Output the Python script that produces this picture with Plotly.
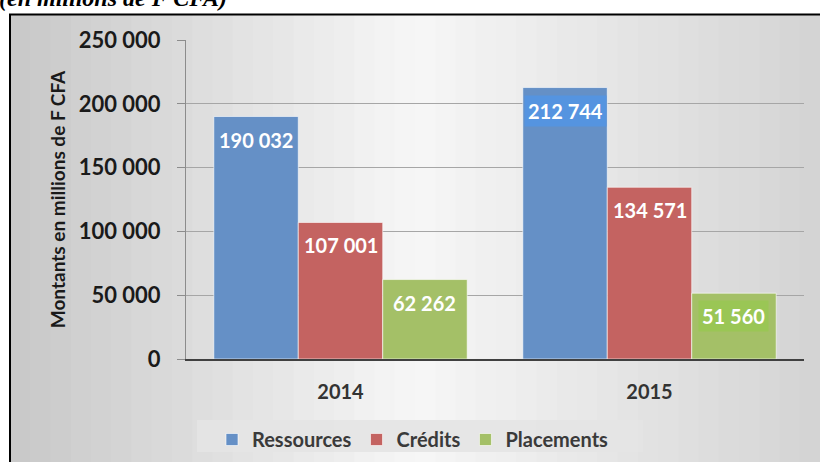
import plotly.graph_objects as go

years = ["2014", "2015"]
ressources = [190032, 212744]
credits = [107001, 134571]
placements = [62262, 51560]
series_names = ["Ressources", "Crédits", "Placements"]
y_ticks = [0, 50000, 100000, 150000, 200000, 250000]
y_tick_labels = ["0", "50 000", "100 000", "150 000", "200 000", "250 000"]
y_title = "Montants en millions de F CFA"
top_caption = "(en millions de F CFA)"

def fmt(v):
    return f"{v:,}".replace(",", " ")

colors = ["#6590c6", "#c46361", "#a4c067"]
# label boxes (Excel-style filled data labels), keyed by (series index, category index)
label_boxes = {(0, 1): "#5594e0", (2, 1): "#9ac655"}

FONT = "Lato"
L, R, T, B = 186, 16, 40, 103
W, H = 820, 462
pw, ph = W - L - R, H - T - B
BARGAP = 0.18

def px(xp):
    return (xp - L) / pw

def py(yp):
    return 1 - (yp - T) / ph

xpos = list(range(len(years)))
fig = go.Figure()
all_series = [ressources, credits, placements]
for name, vals, col in zip(series_names, all_series, colors):
    fig.add_trace(go.Bar(
        x=xpos, y=vals, name=name,
        marker=dict(color=col, line=dict(color="rgba(255,255,255,0.6)", width=1)),
    ))

# data labels placed inside the top of each bar
bar_w = (1 - BARGAP) / len(series_names)
annotations = []
for si, vals in enumerate(all_series):
    off = (si - (len(series_names) - 1) / 2) * bar_w
    for ci, v in enumerate(vals):
        box = label_boxes.get((si, ci))
        annotations.append(dict(
            x=xpos[ci] + off, y=v, xref="x", yref="y", yshift=-23,
            text=fmt(v), showarrow=False, xanchor="center", yanchor="middle",
            font=dict(family=FONT, size=20, color="white", weight="bold"),
            bgcolor=box if box else "rgba(0,0,0,0)", borderpad=3,
        ))

annotations.append(dict(text=top_caption, xref="paper", yref="paper",
                        x=px(-3), y=py(-2), xanchor="left", yanchor="middle", showarrow=False,
                        font=dict(family="Liberation Serif", size=24, color="black",
                                  weight="bold", style="italic")))

# background gradient strips
shapes = []
n = 40
for i in range(n):
    x0 = 10 + (W - 10) * i / n
    x1 = 10 + (W - 10) * (i + 1) / n
    t = (i + 0.5) / n
    if t < 0.5:
        v = 200 + (247 - 200) * (t / 0.5)
    else:
        v = 247 - (247 - 212) * ((t - 0.5) / 0.5)
    v = int(v)
    shapes.append(dict(type="rect", xref="paper", yref="paper",
                       x0=px(x0), x1=px(x1) + 0.002, y0=py(H + 2), y1=py(14),
                       fillcolor=f"rgb({v},{v},{v})", line=dict(width=0), layer="below"))
# legend box background
shapes.append(dict(type="rect", xref="paper", yref="paper",
                   x0=px(197), x1=px(643), y0=py(452), y1=py(420),
                   fillcolor="rgba(228,228,228,0.9)", line=dict(width=0), layer="below"))
# frame
shapes.append(dict(type="rect", xref="paper", yref="paper",
                   x0=px(10), x1=px(W + 4), y0=py(H + 4), y1=py(14.5),
                   line=dict(color="black", width=2), fillcolor="rgba(0,0,0,0)"))

fig.update_layout(
    width=W, height=H,
    margin=dict(l=L, r=R, t=T, b=B, autoexpand=False),
    paper_bgcolor="white",
    plot_bgcolor="rgba(0,0,0,0)",
    barmode="group",
    bargap=BARGAP, bargroupgap=0,
    shapes=shapes,
    showlegend=True,
    legend=dict(orientation="h", x=px(212), xanchor="left", y=py(420), yanchor="top",
                bgcolor="rgba(0,0,0,0)",
                font=dict(family=FONT, size=20, color="#3a3a3a", weight="bold"),
                itemwidth=30, tracegroupgap=0),
    font=dict(family=FONT),
    annotations=annotations,
)
fig.update_xaxes(range=[-0.5, len(years) - 0.5], tickvals=xpos, ticktext=years,
                 showgrid=False, zeroline=False, showline=True, linecolor="#404040", linewidth=2,
                 tickfont=dict(family=FONT, size=20, color="#333333", weight="bold"),
                 ticks="", ticklabelstandoff=14)
fig.update_yaxes(range=[0, 250000], tickvals=y_ticks, ticktext=y_tick_labels,
                 showgrid=True, gridcolor="#a6a6a6", gridwidth=1,
                 showline=True, linecolor="#8c8c8c", linewidth=1,
                 ticks="outside", ticklen=8, tickcolor="#8c8c8c",
                 tickfont=dict(family=FONT, size=22, color="#1a1a1a", weight="bold"),
                 ticklabelstandoff=12,
                 zeroline=False,
                 title=dict(text=y_title, standoff=8,
                            font=dict(family=FONT, size=19, color="#1a1a1a", weight="bold")))

fig.write_html("out.html", config={"displayModeBar": False},
               post_script="document.body.style.margin='0';")
